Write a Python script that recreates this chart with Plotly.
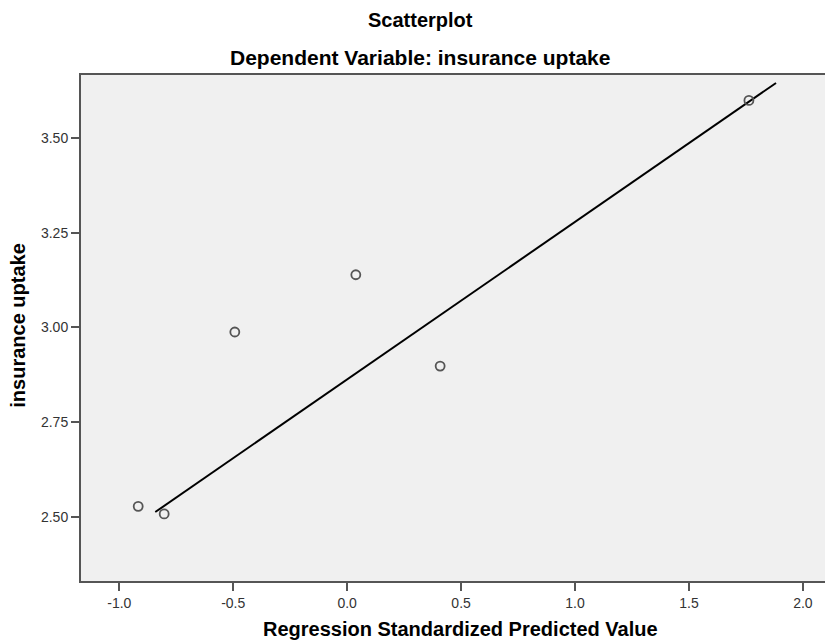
import plotly.graph_objects as go

# Data
pred_std = [-0.917, -0.803, -0.493, 0.038, 0.408, 1.763]
uptake = [2.528, 2.508, 2.988, 3.139, 2.898, 3.599]
fit_x = [-0.842, 1.882]
fit_y = [2.513, 3.645]
x_ticks = [-1.0, -0.5, 0.0, 0.5, 1.0, 1.5, 2.0]
y_ticks = [2.50, 2.75, 3.00, 3.25, 3.50]

FONT = "Liberation Sans, Arial, sans-serif"

fig = go.Figure()
fig.add_trace(go.Scatter(
    x=fit_x, y=fit_y, mode="lines",
    line=dict(color="black", width=2), showlegend=False, hoverinfo="skip"))
fig.add_trace(go.Scatter(
    x=pred_std, y=uptake, mode="markers",
    marker=dict(symbol="circle-open", size=9, color="#555555", line=dict(width=1.8)),
    showlegend=False))

# figure sits at (8, 8) in the page; plot area spans screen x 81..833, y 75..581
fig.update_layout(
    width=825, height=634,
    margin=dict(l=73, r=0, t=67, b=61),
    paper_bgcolor="white", plot_bgcolor="#f0f0f0",
    font=dict(family=FONT, size=14, color="#333333"),
    xaxis=dict(range=[-1.168, 2.132], tickvals=x_ticks,
               ticktext=[f"{v:.1f}" for v in x_ticks],
               showgrid=False, zeroline=False, showline=True, linecolor="#555555",
               linewidth=2, mirror=True, ticks="outside", ticklen=8, tickwidth=2,
               tickcolor="#555555", tickfont=dict(size=14, color="#333333")),
    yaxis=dict(range=[2.331, 3.666], tickvals=y_ticks,
               ticktext=[f"{v:.2f}" for v in y_ticks],
               showgrid=False, zeroline=False, showline=True, linecolor="#555555",
               linewidth=2, ticks="outside", ticklen=8, tickwidth=2,
               tickcolor="#555555", tickfont=dict(size=14, color="#333333")),
    annotations=[
        dict(text="<b>Scatterplot</b>", x=0.4508, y=1.1087, xref="paper", yref="paper",
             xanchor="center", yanchor="middle", showarrow=False,
             font=dict(size=20, color="black", family=FONT)),
        dict(text="<b>Dependent Variable: insurance uptake</b>", x=0.4508, y=1.0336,
             xref="paper", yref="paper", xanchor="center", yanchor="middle",
             showarrow=False, font=dict(size=21, color="black", family=FONT)),
        dict(text="<b>Regression Standardized Predicted Value</b>", x=0.5047, y=-0.0949,
             xref="paper", yref="paper", xanchor="center", yanchor="middle",
             showarrow=False, font=dict(size=20, color="black", family=FONT)),
        dict(text="<b>insurance uptake</b>", x=-0.0831, y=0.5055, xref="paper", yref="paper",
             xanchor="center", yanchor="middle", textangle=-90, showarrow=False,
             font=dict(size=20, color="black", family=FONT)),
    ],
)

fig.write_html("out.html")
